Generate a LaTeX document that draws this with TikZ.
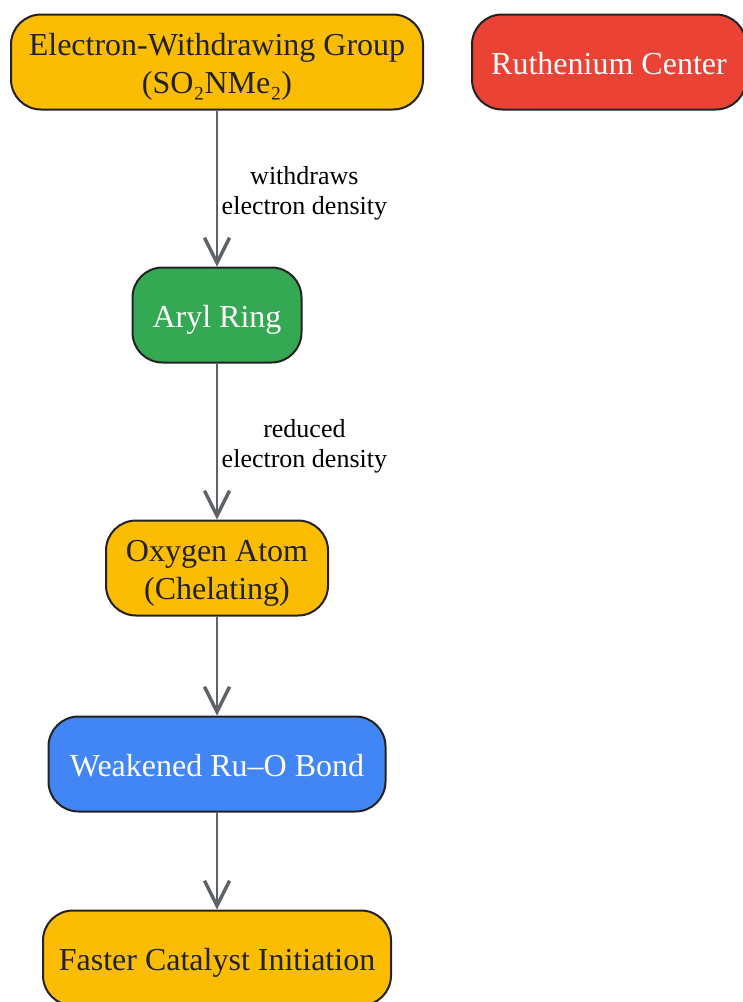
\documentclass[tikz,border=0pt]{standalone}
\usepackage{fontspec}
\setmainfont{Liberation Serif}
\usepackage{tikz}
\usetikzlibrary{positioning}
\usetikzlibrary{arrows.meta}
\usepackage{xcolor}
\definecolor{goldbox}{HTML}{FBBC04}
\definecolor{redbox}{HTML}{EA4335}
\definecolor{greenbox}{HTML}{34A853}
\definecolor{bluebox}{HTML}{4285F4}
\definecolor{edgegray}{HTML}{5F6368}
\definecolor{inkline}{HTML}{222222}

\begin{document}
\begin{tikzpicture}[x=1pt,y=1pt,
 box/.style={draw=inkline,line width=2pt,rounded corners=30pt,align=center,minimum height=95pt,inner sep=0pt,text height=26pt,text depth=2pt,font=\fontsize{32}{38}\selectfont},
 twoline/.style={text height=64pt,text depth=2pt},
 flow/.style={draw=edgegray,line width=2.8pt,-{Straight Barb[length=25pt,width=25pt,line width=3.4pt]}},
 tag/.style={right=0pt,midway,align=center,text=black,font=\fontsize{26}{30}\selectfont}]
 \useasboundingbox (0,0) rectangle (743,-1002);

 \node[box,twoline,fill=goldbox,text=inkline,minimum width=412pt] (ewg) at (217,-62) {Electron-Withdrawing Group\\(SO₂NMe₂)};
 \node[box,fill=redbox,text=white,minimum width=274pt] (ru) at (609,-62) {Ruthenium Center};
 \node[box,fill=greenbox,text=white,minimum width=169pt,below=156pt of ewg] (aryl) {Aryl Ring};
 \node[box,twoline,fill=goldbox,text=inkline,minimum width=222pt,below=156pt of aryl] (oxy) {Oxygen Atom\\(Chelating)};
 \node[box,fill=bluebox,text=white,minimum width=337pt,below=99pt of oxy] (bond) {Weakened Ru--O Bond};
 \node[box,fill=goldbox,text=inkline,minimum width=348pt,below=97pt of bond] (init) {Faster Catalyst Initiation};

 \draw[flow] (ewg) -- (aryl) node[tag,yshift=-5pt] {withdraws\\electron density};
 \draw[flow] (aryl) -- (oxy) node[tag,yshift=-5pt] {reduced\\electron density};
 \draw[flow] (oxy) -- (bond);
 \draw[flow] (bond) -- (init);
\end{tikzpicture}
\end{document}
